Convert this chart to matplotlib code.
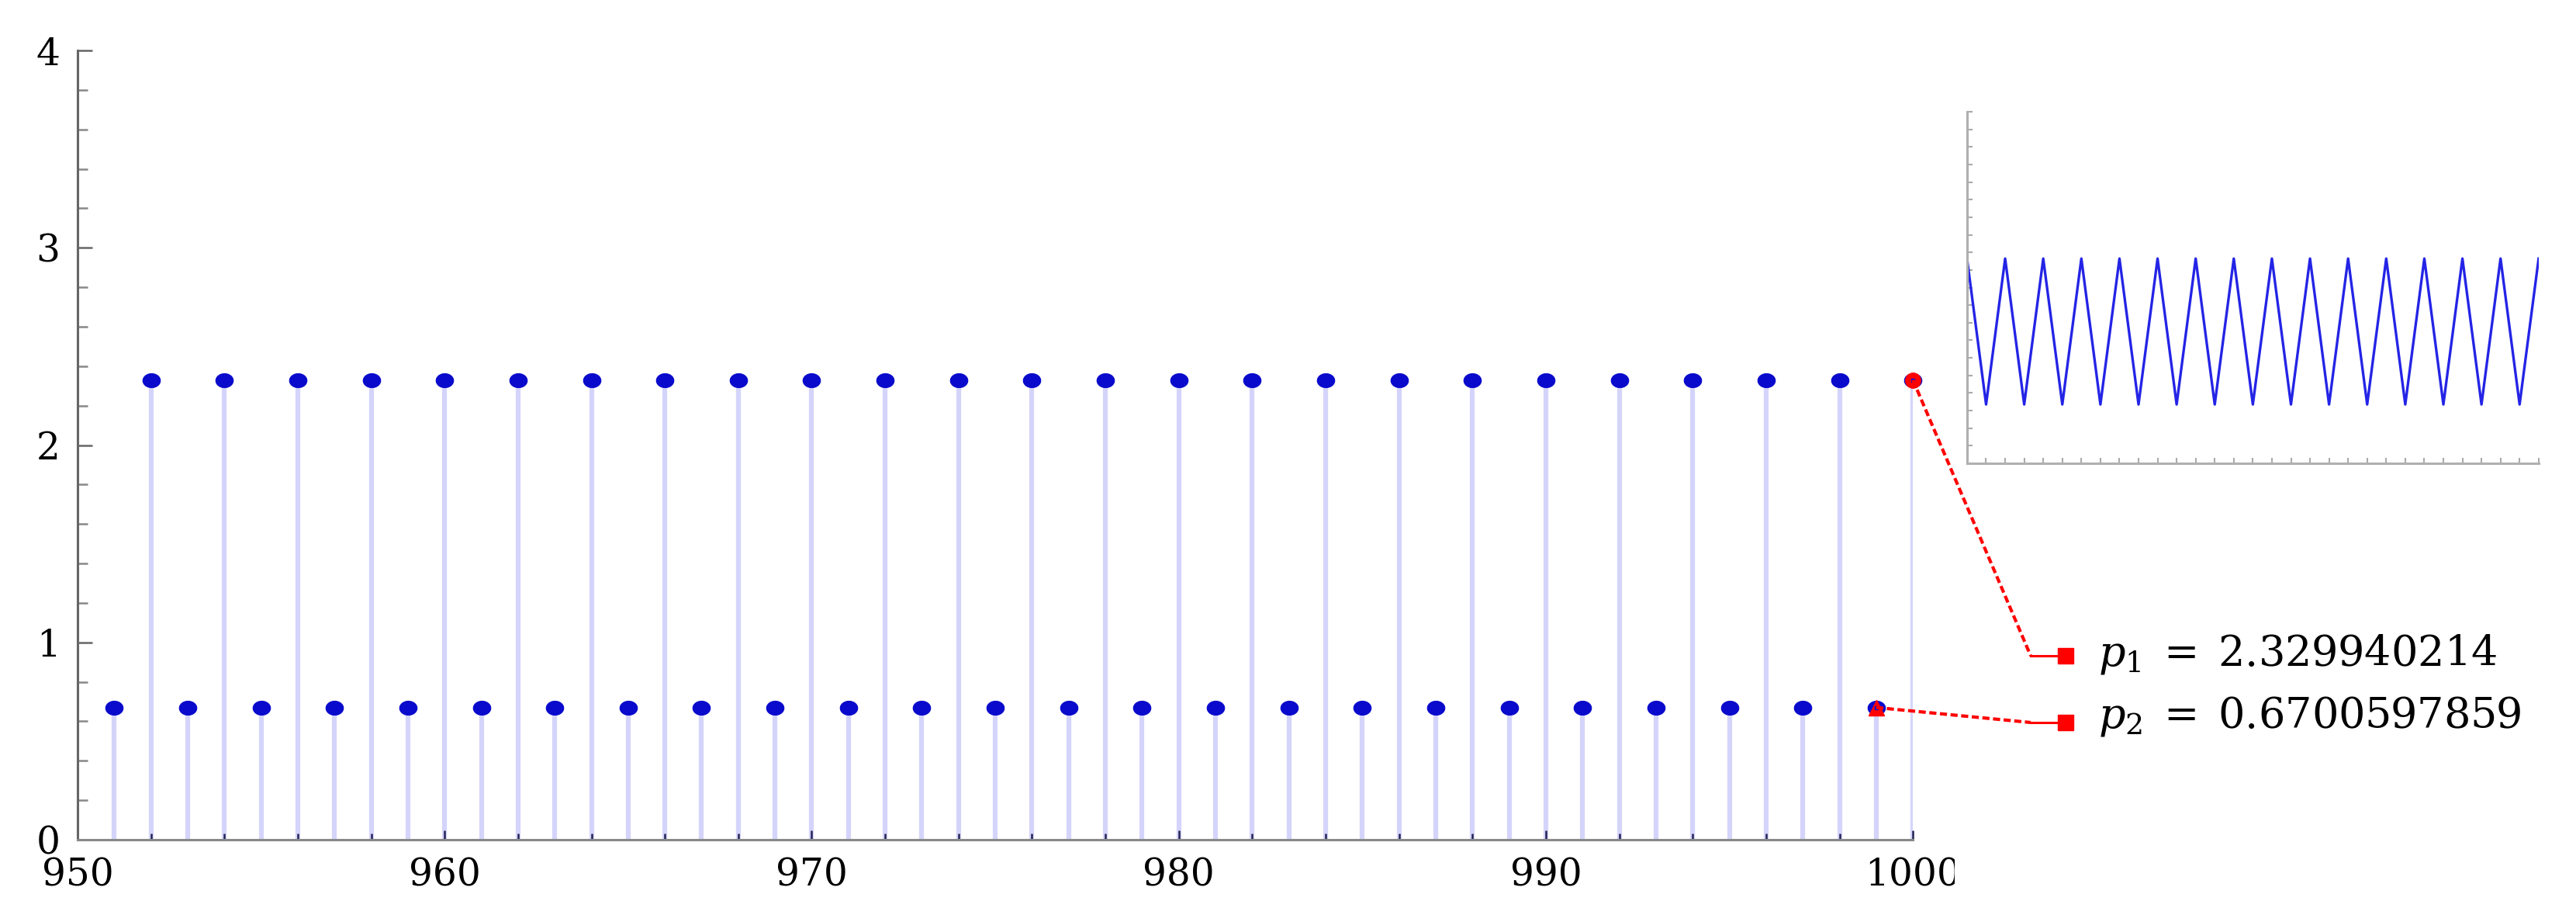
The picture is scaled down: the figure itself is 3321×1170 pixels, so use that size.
import numpy as np
import matplotlib
matplotlib.use("Agg")
import matplotlib.pyplot as plt
from matplotlib.lines import Line2D
from matplotlib.path import Path
from matplotlib.transforms import Bbox, TransformedBbox

plt.rcParams['mathtext.fontset'] = 'dejavuserif'

# the two values of the 2-cycle
p1 = 2.329940214
p2 = 0.6700597859

# iterations 951..1000
n = np.arange(951, 1001)
values = [p2, p1, p2, p1, p2, p1, p2, p1, p2, p1,
          p2, p1, p2, p1, p2, p1, p2, p1, p2, p1,
          p2, p1, p2, p1, p2, p1, p2, p1, p2, p1,
          p2, p1, p2, p1, p2, p1, p2, p1, p2, p1,
          p2, p1, p2, p1, p2, p1, p2, p1, p2, p1]
labels = [r'$p_1\;=\;2.329940214$', r'$p_2\;=\;0.6700597859$']

W, H = 3321, 1170
fig = plt.figure(figsize=(W / 100, H / 100), dpi=100)

# main stem plot
ax = fig.add_axes([0.0301, 0.0752, 0.7125, 0.8692])
ax.vlines(n, 0, values, colors='#d4d4fb', lw=4.5, zorder=1)

t = np.linspace(0, 2 * np.pi, 60)
ell = Path(np.column_stack([np.cos(t), 0.8 * np.sin(t)]))
ax.plot(n, values, ls='none', marker=ell, ms=16, color='#0a0acc', zorder=3, clip_on=False)

# red callout anchors on the last two points
ax.plot(n[-1], values[-1], marker='o', ms=14, color='red', ls='none', zorder=4, clip_on=False)
ax.plot(n[-2], values[-2], marker='^', ms=15, color='red', ls='none', zorder=4, clip_on=False)
ax.plot(n[-2:], values[-2:], marker='s', ms=3.5, color='#1010cc', ls='none', zorder=5, clip_on=False)

ax.set_xlim(950, 1000)
ax.set_ylim(0, 4)
ax.set_xticks(np.arange(950, 1001, 10))
ax.set_xticks(np.arange(950, 1001, 2), minor=True)
ax.set_yticks(np.arange(0, 5, 1))
ax.set_yticks(np.arange(0, 4.01, 0.2), minor=True)
for s in ['top', 'right']:
    ax.spines[s].set_visible(False)
ax.spines['left'].set_color('#666666')
ax.spines['left'].set_linewidth(2.2)
ax.spines['bottom'].set_color('#888888')
ax.spines['bottom'].set_linewidth(2.2)
ax.tick_params(axis='x', which='major', direction='in', length=9, width=1.8, colors='#222255', pad=16)
ax.tick_params(axis='x', which='minor', direction='in', length=6, width=1.8, colors='#222255')
ax.tick_params(axis='y', which='major', direction='in', length=14, width=1.8, colors='#666666', pad=16)
ax.tick_params(axis='y', which='minor', direction='in', length=9, width=1.8, colors='#888888')
for lab in ax.get_xticklabels() + ax.get_yticklabels():
    lab.set_fontfamily('DejaVu Serif')
    lab.set_fontsize(35)
    lab.set_color('black')
clip = TransformedBbox(Bbox.from_extents(0, 0, 0.7588, 1), fig.transFigure)
for lab in ax.get_xticklabels():
    lab.set_clip_box(clip)
    lab.set_clip_on(True)

# inset: last 31 iterations as a line
ins = fig.add_axes([0.7636, 0.4897, 0.2219, 0.3872])
ins.plot(n[19:], values[19:], color='#2424e6', lw=2.4)
ins.set_xlim(970, 1000)
ins.set_ylim(0, 4)
ins.set_xticks(np.arange(970, 1001, 1))
ins.set_yticks(np.arange(0, 4.01, 0.2))
ins.tick_params(direction='in', length=5, width=1.5, colors='#aaaaaa',
                labelbottom=False, labelleft=False)
for s in ['top', 'right']:
    ins.spines[s].set_visible(False)
for s in ['left', 'bottom']:
    ins.spines[s].set_color('#b0b0b0')
    ins.spines[s].set_linewidth(2.2)


def to_fig(x, y):
    return fig.transFigure.inverted().transform(ax.transData.transform((x, y)))


# callouts: dashed leader, short solid elbow, square, label
anchors = [to_fig(n[-1], values[-1]), to_fig(n[-2], values[-2])]
elbows = [(0.7883, 0.2778), (0.7883, 0.2043)]
squares = [(0.8019, 0.2778), (0.8019, 0.2043)]
text_y = [0.2675, 0.1991]
for a, e, sq, ty, lab in zip(anchors, elbows, squares, text_y, labels):
    fig.add_artist(Line2D([a[0], e[0]], [a[1], e[1]], transform=fig.transFigure,
                          color='red', lw=3, ls=(0, (2.2, 1.1))))
    fig.add_artist(Line2D([e[0], sq[0]], [e[1], sq[1]], transform=fig.transFigure,
                          color='red', lw=2.2))
    fig.add_artist(Line2D([sq[0]], [sq[1]], transform=fig.transFigure,
                          color='red', marker='s', ms=14, ls='none'))
    fig.text(0.8145, ty, lab, fontsize=39, va='baseline', ha='left')

fig.savefig('out.png', dpi=100)
